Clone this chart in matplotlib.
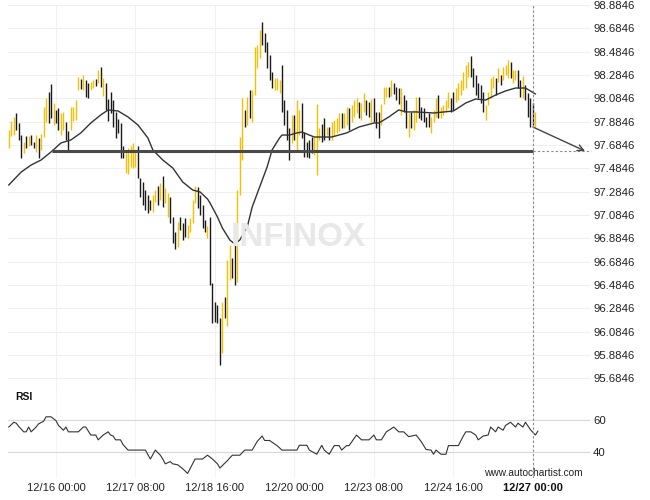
import matplotlib
matplotlib.use('Agg')
import matplotlib.pyplot as plt

plt.rcParams['font.family'] = ['Liberation Sans', 'DejaVu Sans']

# ---------------- data ----------------
highs = [97.813, 97.890, 97.925, 97.959, 97.873, 97.770, 97.710, 97.762, 97.762, 97.770,
         97.710, 97.770, 97.745, 97.779, 98.010, 98.088, 98.139, 98.208, 98.045, 97.985,
         98.002, 97.959, 97.968, 97.882, 97.805, 98.010, 98.010, 98.070, 98.268, 98.250,
         98.285, 98.242, 98.216, 98.225, 98.242, 98.250, 98.328, 98.353, 98.259, 98.216,
         98.079, 98.139, 98.070, 97.968, 97.908, 97.873, 97.676, 97.642, 97.659, 97.676,
         97.702, 97.642, 97.676, 97.402, 97.368, 97.299, 97.256, 97.213, 97.256, 97.299,
         97.333, 97.359, 97.419, 97.316, 97.273, 97.239, 97.068, 96.939, 97.025, 97.068,
         97.016, 97.059, 96.999, 97.059, 97.213, 97.333, 97.325, 97.256, 97.170, 97.042,
         96.990, 97.068, 96.502, 96.339, 96.313, 96.202, 96.339, 96.382, 96.699, 96.828,
         96.716, 96.828, 97.299, 97.753, 98.088, 97.985, 98.096, 98.156, 98.156, 98.525,
         98.542, 98.670, 98.739, 98.645, 98.568, 98.456, 98.310, 98.259, 98.259, 98.242,
         98.370, 98.070, 97.985, 97.830, 97.942, 97.942, 98.070, 97.985, 98.045, 97.796,
         97.710, 97.728, 97.753, 97.753, 98.036, 97.830, 97.865, 97.916, 97.839, 97.839,
         97.882, 97.899, 97.916, 97.959, 97.959, 97.959, 98.010, 98.002, 98.028, 98.070,
         98.088, 98.053, 98.045, 98.130, 98.070, 98.053, 98.079, 98.088, 97.968, 97.968,
         98.036, 98.182, 98.182, 98.182, 98.242, 98.216, 98.182, 98.173, 98.173, 98.113,
         98.070, 97.959, 97.968, 97.985, 98.096, 98.096, 98.010, 98.002, 97.925, 97.959,
         97.925, 97.985, 98.088, 98.113, 98.010, 98.028, 98.070, 98.139, 98.088, 98.139,
         98.173, 98.216, 98.242, 98.310, 98.370, 98.396, 98.448, 98.345, 98.285, 98.216,
         98.199, 98.139, 98.028, 98.139, 98.259, 98.276, 98.259, 98.345, 98.285, 98.353,
         98.370, 98.413, 98.396, 98.328, 98.328, 98.328, 98.242, 98.276, 98.199, 98.130,
         98.088, 98.045, 97.968]

lows = [97.659, 97.762, 97.770, 97.813, 97.728, 97.573, 97.616, 97.659, 97.676, 97.685,
        97.659, 97.625, 97.573, 97.642, 97.753, 97.882, 97.873, 97.916, 97.856, 97.873,
        97.813, 97.770, 97.813, 97.728, 97.633, 97.813, 97.890, 97.899, 98.156, 98.165,
        98.156, 98.096, 98.088, 98.156, 98.173, 98.190, 98.216, 98.182, 98.105, 97.985,
        97.890, 97.959, 97.839, 97.745, 97.788, 97.573, 97.573, 97.445, 97.436, 97.496,
        97.488, 97.496, 97.402, 97.239, 97.170, 97.128, 97.102, 97.128, 97.110, 97.196,
        97.170, 97.213, 97.153, 97.188, 97.068, 97.016, 96.845, 96.793, 96.810, 96.956,
        96.870, 96.896, 96.888, 96.939, 97.016, 97.188, 97.145, 97.085, 96.973, 96.939,
        96.888, 96.485, 96.159, 96.168, 96.159, 95.799, 95.902, 96.202, 96.133, 96.528,
        96.545, 96.485, 96.510, 97.256, 97.556, 97.839, 97.856, 97.916, 97.882, 98.113,
        98.345, 98.430, 98.542, 98.482, 98.345, 98.242, 98.173, 98.156, 98.156, 98.130,
        97.968, 97.856, 97.728, 97.556, 97.702, 97.728, 97.642, 97.770, 97.745, 97.582,
        97.582, 97.573, 97.616, 97.599, 97.428, 97.728, 97.710, 97.728, 97.770, 97.728,
        97.728, 97.762, 97.788, 97.805, 97.830, 97.830, 97.856, 97.813, 97.882, 97.925,
        97.959, 97.916, 97.899, 97.968, 97.942, 97.925, 97.882, 97.882, 97.830, 97.745,
        97.856, 98.036, 98.096, 98.096, 98.105, 98.122, 98.070, 98.036, 97.942, 97.968,
        97.830, 97.753, 97.830, 97.813, 97.882, 97.916, 97.899, 97.882, 97.839, 97.839,
        97.788, 97.882, 97.925, 97.916, 97.916, 97.942, 97.968, 98.002, 97.968, 97.985,
        98.053, 98.070, 98.113, 98.156, 98.173, 98.268, 98.268, 98.182, 98.113, 98.088,
        98.045, 97.968, 97.899, 98.028, 98.088, 98.173, 98.113, 98.225, 98.199, 98.242,
        98.285, 98.259, 98.259, 98.216, 98.242, 98.173, 98.096, 98.088, 98.070, 97.925,
        97.839, 97.856, 97.839]

# u = bar closed up (gold), d = bar closed down (black)
direction = ("uuudddudud" "duduuuddud" "duudduuuud" "udduududud" "ddddddduuu"
             "uudddddduu" "duduudddud" "dduuuudddd" "uddddduduu" "dduuududuu"
             "uuddddduuu" "dddduduudd" "ddduuuddud" "uuuuduuduu" "uduudduddd"
             "uuududddud" "duduuddddd" "uuuduuuudd" "uuuuuudddd" "dduuuududu"
             "uuduuddudd" "ddu")

ma_idx = [0, 5, 9, 13, 17, 21, 25, 29, 33, 37, 40, 44, 48, 52, 56, 58, 62, 66, 70, 74,
          77, 80, 81, 84, 86, 89, 91, 93, 96, 98, 101, 104, 106, 109, 110, 113, 116, 118,
          121, 123, 130, 136, 141, 147, 149, 153, 157, 160, 164, 171, 179, 184, 188, 192,
          196, 200, 204, 208, 210, 212]
ma_val = [97.342, 97.453, 97.513, 97.556, 97.625, 97.702, 97.728, 97.788, 97.873, 97.942,
          97.985, 97.976, 97.925, 97.856, 97.745, 97.642, 97.556, 97.488, 97.368, 97.299,
          97.282, 97.222, 97.188, 97.068, 96.973, 96.870, 96.836, 96.870, 96.982, 97.153,
          97.325, 97.496, 97.642, 97.745, 97.770, 97.770, 97.788, 97.796, 97.770, 97.753,
          97.753, 97.788, 97.839, 97.873, 97.873, 97.925, 97.985, 97.968, 97.968, 97.959,
          97.976, 98.045, 98.079, 98.070, 98.113, 98.148, 98.173, 98.173, 98.148, 98.122]

rsi_idx = [0, 2, 3, 4, 6, 7, 8, 9, 11, 12, 14, 15, 17, 19, 20, 22, 23, 24, 27, 28, 30, 31,
           33, 35, 36, 38, 40, 41, 42, 43, 45, 46, 48, 50, 52, 55, 57, 59, 61, 62, 63, 65,
           66, 68, 70, 72, 73, 75, 78, 80, 82, 84, 85, 88, 90, 93, 95, 98, 100, 102, 103,
           105, 108, 110, 116, 117, 120, 121, 124, 126, 127, 129, 131, 133, 134, 136, 137,
           140, 142, 145, 147, 148, 150, 152, 155, 157, 159, 161, 164, 166, 168, 170, 171,
           172, 174, 176, 177, 181, 183, 184, 186, 188, 189, 191, 193, 194, 196, 197, 199,
           200, 202, 204, 205, 207, 208, 210, 212, 213]
rsi_val = [55.6, 58.6, 58.0, 56.0, 52.6, 52.6, 55.6, 52.6, 55.6, 57.6, 59.2, 62.0, 62.0,
           59.6, 56.6, 53.6, 55.6, 52.6, 52.6, 52.6, 55.6, 55.6, 50.6, 50.6, 47.6, 50.6,
           52.6, 50.6, 50.0, 47.6, 47.6, 44.6, 41.2, 41.2, 41.2, 41.2, 35.6, 41.2, 38.0,
           35.6, 32.6, 34.0, 32.6, 32.0, 29.6, 26.6, 29.6, 35.6, 35.6, 38.0, 35.6, 32.6,
           30.0, 34.6, 38.0, 38.0, 41.2, 41.2, 46.6, 50.0, 47.2, 47.2, 44.0, 41.2, 41.2,
           44.2, 44.2, 41.2, 38.6, 44.2, 41.2, 38.6, 44.0, 44.0, 41.2, 44.0, 44.0, 50.6,
           47.6, 47.6, 50.6, 47.6, 47.6, 52.6, 55.6, 52.6, 52.6, 49.6, 50.6, 46.6, 41.6,
           41.2, 38.6, 41.2, 38.6, 38.6, 44.0, 44.0, 50.0, 52.6, 52.6, 50.6, 47.6, 50.0,
           50.6, 55.6, 52.6, 55.6, 53.6, 56.6, 58.6, 55.6, 58.0, 55.6, 58.6, 54.0, 50.6,
           53.0]

price_ticks = [98.8846, 98.6846, 98.4846, 98.2846, 98.0846, 97.8846, 97.6846, 97.4846,
               97.2846, 97.0846, 96.8846, 96.6846, 96.4846, 96.2846, 96.0846, 95.8846,
               95.6846]
time_ticks = [19, 51, 83, 115, 147, 179, 211]
time_labels = ['12/16 00:00', '12/17 08:00', '12/18 16:00', '12/20 00:00',
               '12/23 08:00', '12/24 16:00', '12/27 00:00']
rsi_ticks = [40, 60]

support_level = 97.633
support_start = 17.3
pattern_end = 210.9
forecast_start = (211, 97.839)
forecast_end = (232, 97.633)

# ---------------- figure ----------------
W, H = 650, 500
fig = plt.figure(figsize=(W / 100, H / 100), dpi=100)
fig.patch.set_facecolor('white')

L, R = 8, 590
ax = fig.add_axes([L / W, (H - 390) / H, (R - L) / W, 385 / H])
rx = fig.add_axes([L / W, (H - 478) / H, (R - L) / W, 88 / H])

xlim = (-0.32, 234.0)
for a in (ax, rx):
    a.set_xlim(*xlim)
    for s in a.spines.values():
        s.set_visible(False)
    a.set_facecolor('none')

ax.set_ylim(95.5847, 98.8846)
rx.set_ylim(23.75, 78.75)

# grid
ax.set_yticks(price_ticks)
ax.set_yticklabels([f"{t:.4f}" for t in price_ticks])
ax.yaxis.tick_right()
ax.tick_params(axis='y', length=0, pad=2.2, labelsize=8.2, labelcolor='#222222')
ax.set_xticks(time_ticks)
ax.tick_params(axis='x', length=0, labelbottom=False)
ax.grid(True, color='#f0f0f0', lw=0.8, zorder=0)
ax.set_axisbelow(True)

rx.set_yticks(rsi_ticks)
rx.set_yticklabels([str(t) for t in rsi_ticks])
rx.yaxis.tick_right()
rx.tick_params(axis='y', length=0, pad=2.2, labelsize=8.2, labelcolor='#222222')
rx.set_xticks(time_ticks)
rx.set_xticklabels(time_labels)
rx.tick_params(axis='x', length=0, pad=3.5, labelsize=8, labelcolor='#222222')
rx.xaxis.grid(True, color='#f4f4f4', lw=0.8)
rx.yaxis.grid(True, color='#d8d8d8', lw=0.8)
rx.set_axisbelow(True)
rx.get_xticklabels()[-1].set_fontweight('bold')
rx.get_xticklabels()[-1].set_color('#111111')

# watermark
fig.text(298 / W, 1 - 238 / H, 'INFINOX', fontsize=24, fontweight='bold',
         color='#e8e8e8', ha='center', va='center', zorder=0)

# bars
idx = list(range(len(highs)))
colors = ['#f5c000' if d == 'u' else '#1a1a1a' for d in direction]
ax.vlines(idx, lows, highs, colors=colors, lw=1.0, zorder=3)

# moving average
ax.plot(ma_idx, ma_val, color='#333333', lw=1.0, zorder=4)

# support line + projection
ax.plot([support_start, pattern_end], [support_level, support_level],
        color='#4a4a4a', lw=2.2, solid_capstyle='butt', zorder=5)
ax.plot([pattern_end, 234.3], [support_level, support_level], color='#888888',
        lw=0.8, ls=(0, (2, 2)), clip_on=False, zorder=5)
ax.annotate('', xy=forecast_end, xytext=forecast_start,
            arrowprops=dict(arrowstyle='->', color='#444444', lw=1.0,
                            mutation_scale=11, shrinkA=0, shrinkB=0), zorder=6)

# vertical marker
for a in (ax, rx):
    a.axvline(pattern_end, color='#888888', lw=0.8, ls=(0, (2, 2)), zorder=6)

# RSI
rx.plot(rsi_idx, rsi_val, color='#333333', lw=0.8, zorder=4)
fig.text(15 / W, 1 - 397 / H, 'RSI', fontsize=7.5, fontweight='bold',
         color='#111111', ha='left', va='center')
fig.text(583 / W, 1 - 473 / H, 'www.autochartist.com', fontsize=7.3,
         color='#222222', ha='right', va='center')

fig.savefig('out.png', dpi=100, facecolor='white')
